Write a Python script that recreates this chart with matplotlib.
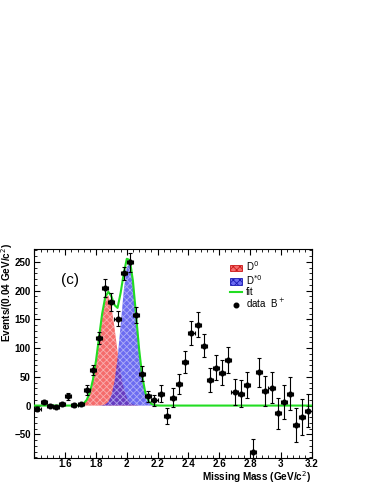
import numpy as np
import matplotlib; matplotlib.use('Agg')
import matplotlib.pyplot as plt
from matplotlib.patches import Patch
from matplotlib.lines import Line2D
from matplotlib.ticker import MultipleLocator

plt.rcParams['font.family'] = ['Liberation Sans', 'DejaVu Sans']
plt.rcParams['hatch.linewidth'] = 0.6

# data B+ (bin centres, 0.04 GeV/c^2 bins)
mass = np.round(np.arange(1.42, 3.19, 0.04), 2)
events = [-6, 6, 0, -2, 3, 16, 1, 2, 27, 62, 118, 205, 180, 151, 230, 249, 157, 55, 16, 9,
          21, -18, 14, 38, 76, 126, 141, 104, 45, 66, 57, 79, 24, 21, 36, -81, 58, 25, 31, -13,
          6, 21, -34, -20, -9]
errors = [4, 4, 3, 3, 3, 6, 3, 3, 8, 9, 10, 16, 16, 13, 12, 16, 14, 13, 10, 10,
          15, 14, 16, 17, 19, 21, 21, 20, 21, 22, 22, 23, 23, 23, 23, 22, 25, 26, 27, 27,
          29, 29, 30, 32, 29]

# fit components
curve_m = np.round(np.arange(1.64, 2.27, 0.02), 2)
d0 = [0, 0.1, 0.4, 1.3, 3.8, 9.9, 22.5, 44.8, 78.1, 119.2, 159.4, 186.8, 191.8, 172.6, 136.0, 93.9,
      56.8, 30.2, 14.0, 5.7, 2.0, 0.6, 0.2, 0, 0, 0, 0, 0, 0, 0, 0, 0]
dstar0 = [0, 0, 0, 0, 0, 0, 0, 0, 0, 0.1, 0.5, 1.9, 6.3, 17.5, 41.3, 82.4,
          139.3, 199.3, 241.4, 247.5, 214.7, 157.8, 98.2, 51.7, 23.0, 8.7, 2.8, 0.7, 0.2, 0, 0, 0]
fit_m = [1.40] + list(curve_m) + [3.20]
fit = [0, 0, 0.1, 0.4, 1.3, 3.8, 9.9, 22.5, 44.8, 78.1, 119.3, 159.9, 188.7, 198.1, 190.1, 175.0, 170.0,
       196.1, 229.5, 255.4, 253.2, 216.7, 158.4, 98.4, 51.7, 23.0, 8.7, 2.8, 0.7, 0.2, 0, 0, 0, 0]

fig = plt.figure(figsize=(3.74, 4.84), dpi=100)
ax = fig.add_axes([0.092, 0.054, 0.741, 0.431])

red_face, blue_face = (0.95, 0.2, 0.2, 0.72), (0.15, 0.15, 0.92, 0.68)
hatch_col = (1, 1, 1, 0.45)
ax.fill_between(curve_m, 0, d0, facecolor=red_face, edgecolor=hatch_col, hatch='xxxxx', lw=0)
ax.fill_between(curve_m, 0, dstar0, facecolor=blue_face, edgecolor=hatch_col, hatch='xxxxx', lw=0)
ax.plot(fit_m, fit, color='#22dd22', lw=1.5, zorder=3)
ax.errorbar(mass, events, yerr=errors, xerr=0.02, fmt='o', ms=3.3, color='black',
            elinewidth=0.8, capsize=1.2, capthick=0.8, zorder=4)

ax.set_xlim(1.40, 3.20); ax.set_ylim(-91, 272)
ax.xaxis.set_major_locator(MultipleLocator(0.2)); ax.xaxis.set_minor_locator(MultipleLocator(0.04))
ax.yaxis.set_major_locator(MultipleLocator(50)); ax.yaxis.set_minor_locator(MultipleLocator(10))
ax.xaxis.set_major_formatter(plt.FuncFormatter(lambda v, p: '' if v < 1.5 else f'{v:g}'))
ax.tick_params(which='both', direction='in', top=True, right=True, labelsize=7)
ax.tick_params(which='major', length=4, width=0.8)
ax.tick_params(which='minor', length=2, width=0.6)
ax.tick_params(axis='x', pad=1.0)
ax.tick_params(axis='y', pad=2.5)
for lab in ax.get_xticklabels() + ax.get_yticklabels(): lab.set_fontweight('bold')
for s in ax.spines.values(): s.set_linewidth(0.8)

ax.set_xlabel('Missing Mass (GeV/c$^2$)', fontsize=7.2, fontweight='bold', loc='right')
ax.set_ylabel('Events/(0.04 GeV/c$^2$)', fontsize=7.2, fontweight='bold', loc='top')
ax.yaxis.set_label_coords(-0.071, 1.03)
ax.xaxis.set_label_coords(1.0, -0.054)
ax.text(0.129, 0.853, '(c)', transform=ax.transAxes, fontsize=11, ha='center', va='center')

handles = [Patch(facecolor=red_face, edgecolor=(0.8, 0.1, 0.1), hatch='xxxxx', lw=0.6),
           Patch(facecolor=blue_face, edgecolor=(0.1, 0.1, 0.7), hatch='xxxxx', lw=0.6),
           Line2D([], [], color='#22dd22', lw=1.5),
           Line2D([], [], marker='o', ls='', ms=3.3, color='black')]
ax.legend(handles, ['D$^0$', 'D$^{*0}$', 'fit', 'data  B$^+$'], loc='upper left',
          bbox_to_anchor=(0.69, 0.97), frameon=False, fontsize=7, handlelength=1.3,
          handleheight=0.6, labelspacing=0.0, handletextpad=0.4, borderaxespad=0)

fig.savefig('out.png', dpi=100)
